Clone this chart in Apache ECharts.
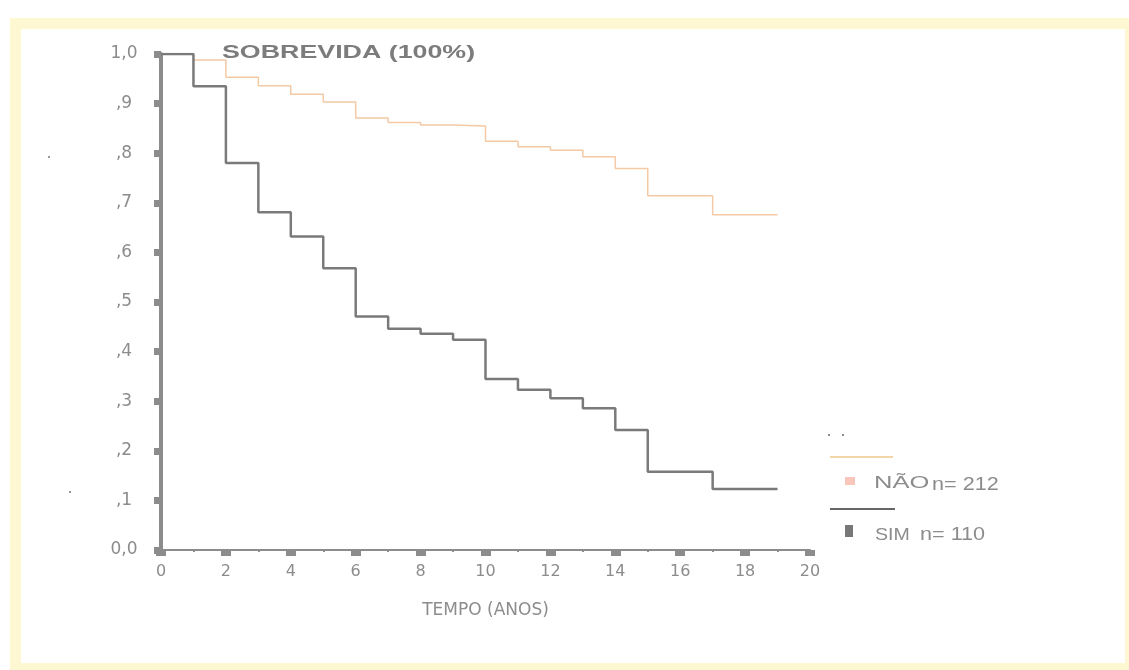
<!DOCTYPE html>
<html>
<head>
<meta charset="utf-8">
<title>Sobrevida</title>
<script src="https://cdn.jsdelivr.net/npm/echarts@6/dist/echarts.min.js"></script>
<style>
  html, body { margin: 0; padding: 0; background: #fff; }
  #chart { width: 1129px; height: 670px; }
</style>
</head>
<body>
<div id="chart"></div>
<script>
// tempo (anos) e sobrevida acumulada
const tempo   = [0, 1, 2, 3, 4, 5, 6, 7, 8, 9, 10, 11, 12, 13, 14, 15, 17, 19];
const naoSurv = [1.0, 0.988, 0.953, 0.936, 0.919, 0.903, 0.871, 0.862, 0.857, 0.855, 0.824, 0.813, 0.806, 0.793, 0.769, 0.714, 0.676, 0.676];
const simSurv = [1.0, 0.935, 0.780, 0.681, 0.632, 0.568, 0.471, 0.446, 0.436, 0.424, 0.345, 0.323, 0.306, 0.286, 0.242, 0.158, 0.123, 0.123];
const yTickLabels = ['0,0', ',1', ',2', ',3', ',4', ',5', ',6', ',7', ',8', ',9', '1,0'];
const xTickLabels = ['0', '2', '4', '6', '8', '10', '12', '14', '16', '18', '20'];
const legendNames = ['NÃO', 'SIM'];
const legendCounts = ['n= 212', 'n= 110'];

const grey = '#8c8c8c';
const yellow = '#fdf8d2';

const myChart = echarts.init(document.getElementById('chart'));

function pairs(ys) {
    return tempo.map((t, i) => [t, ys[i]]);
}

const option = {
    backgroundColor: '#fff',
    animation: false,
    grid: { left: 161, right: 319, top: 54, bottom: 120 },
    xAxis: {
        type: 'value',
        min: 0,
        max: 20,
        interval: 2,
        name: 'TEMPO (ANOS)',
        nameLocation: 'middle',
        nameGap: 52,
        nameTextStyle: { color: grey, fontSize: 17, fontFamily: 'DejaVu Sans' },
        axisLine: { show: true, lineStyle: { color: grey, width: 2 } },
        axisTick: { show: true, length: 6, lineStyle: { color: grey, width: 10 } },
        minorTick: { show: true, splitNumber: 2, length: 2, lineStyle: { color: grey, width: 2 } },
        axisLabel: {
            color: grey, fontSize: 16, fontFamily: 'DejaVu Sans', margin: 14,
            formatter: (v) => xTickLabels[Math.round(v / 2)]
        },
        splitLine: { show: false }
    },
    yAxis: {
        type: 'value',
        min: 0,
        max: 1,
        interval: 0.1,
        axisLine: { show: true, lineStyle: { color: grey, width: 4 } },
        axisTick: { show: true, length: 7, lineStyle: { color: grey, width: 7 } },
        axisLabel: {
            color: grey, fontSize: 17, fontFamily: 'DejaVu Sans', margin: 37, align: 'center',
            formatter: (v) => yTickLabels[Math.round(v * 10)]
        },
        splitLine: { show: false }
    },
    series: [
        {
            name: legendNames[0],
            type: 'line',
            step: 'end',
            symbol: 'none',
            data: pairs(naoSurv),
            lineStyle: { color: '#f4c9a4', width: 1.5 },
            z: 2
        },
        {
            name: legendNames[1],
            type: 'line',
            step: 'end',
            symbol: 'none',
            data: pairs(simSurv),
            lineStyle: { color: '#7a7a7a', width: 2.5 },
            z: 3
        }
    ],
    graphic: [
        // moldura amarela
        { type: 'rect', shape: { x: 10, y: 18, width: 1119, height: 11 }, style: { fill: yellow }, silent: true },
        { type: 'rect', shape: { x: 10, y: 18, width: 11, height: 652 }, style: { fill: yellow }, silent: true },
        { type: 'rect', shape: { x: 10, y: 663, width: 1119, height: 7 }, style: { fill: yellow }, silent: true },
        { type: 'rect', shape: { x: 1125, y: 18, width: 4, height: 652 }, style: { fill: yellow }, silent: true },
        // título
        {
            type: 'text', x: 222, y: 53, scaleX: 1.41,
            style: { text: 'SOBREVIDA (100%)', fill: '#7c7c7c', font: 'bold 19px "Liberation Sans"', verticalAlign: 'middle' }
        },
        // legenda
        { type: 'circle', shape: { cx: 829, cy: 435, r: 1 }, style: { fill: '#666' } },
        { type: 'circle', shape: { cx: 843, cy: 435, r: 1 }, style: { fill: '#666' } },
        { type: 'line', shape: { x1: 830, y1: 457, x2: 893, y2: 457 }, style: { stroke: '#f3d6a8', lineWidth: 2 } },
        { type: 'rect', shape: { x: 845, y: 477, width: 10, height: 8 }, style: { fill: '#f8c6bb' } },
        {
            type: 'text', x: 874, y: 483, scaleX: 1.5,
            style: { text: legendNames[0], fill: grey, font: '17px "Liberation Sans"', verticalAlign: 'middle' }
        },
        {
            type: 'text', x: 932, y: 485, scaleX: 1.2,
            style: { text: legendCounts[0], fill: grey, font: '18px "Liberation Sans"', verticalAlign: 'middle' }
        },
        { type: 'line', shape: { x1: 830, y1: 509, x2: 895, y2: 509 }, style: { stroke: '#666', lineWidth: 2 } },
        { type: 'rect', shape: { x: 845, y: 525, width: 8, height: 12 }, style: { fill: '#777' } },
        {
            type: 'text', x: 875, y: 535, scaleX: 1.15,
            style: { text: legendNames[1], fill: grey, font: '17px "Liberation Sans"', verticalAlign: 'middle' }
        },
        {
            type: 'text', x: 920, y: 535, scaleX: 1.2,
            style: { text: legendCounts[1], fill: grey, font: '18px "Liberation Sans"', verticalAlign: 'middle' }
        },
        // pontos soltos da digitalização
        { type: 'circle', shape: { cx: 49, cy: 157, r: 1 }, style: { fill: '#777' } },
        { type: 'circle', shape: { cx: 70, cy: 492, r: 1 }, style: { fill: '#777' } }
    ]
};

myChart.setOption(option);
</script>
</body>
</html>
